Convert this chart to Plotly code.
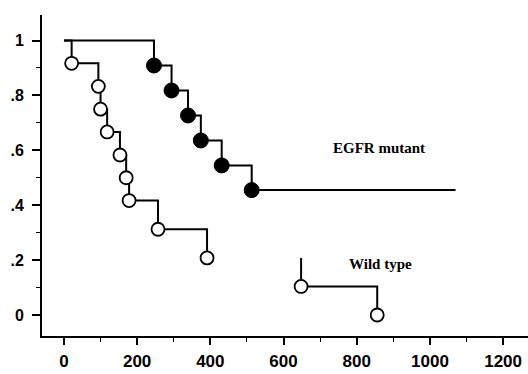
import plotly.graph_objects as go

# EGFR mutant (Kaplan-Meier step curve)
mut_time = [0, 246, 294, 339, 374, 431, 513, 1070]
mut_surv = [1.0, 0.909, 0.818, 0.727, 0.636, 0.545, 0.455, 0.455]
mut_event_time = [246, 294, 339, 374, 431, 513]
mut_event_surv = [0.909, 0.818, 0.727, 0.636, 0.545, 0.455]

# Wild type (two drawn segments; the line between 391 and 648 is absent in the original)
wt_time = [0, 21, 94, 100, 118, 153, 170, 178, 257, 391, None, 648, 648, 856]
wt_surv = [1.0, 0.917, 0.833, 0.75, 0.667, 0.583, 0.5, 0.417, 0.3125, 0.208, None, 0.208, 0.104, 0.0]
wt_event_time = [21, 94, 100, 118, 153, 170, 178, 257, 391, 648, 856]
wt_event_surv = [0.917, 0.833, 0.75, 0.667, 0.583, 0.5, 0.417, 0.3125, 0.208, 0.104, 0.0]

x_tickvals = [0, 200, 400, 600, 800, 1000, 1200]
x_ticktext = ["0", "200", "400", "600", "800", "1000", "1200"]
y_tickvals = [0, 0.2, 0.4, 0.6, 0.8, 1.0]
y_ticktext = ["0", ".2", ".4", ".6", ".8", "1"]

labels = ["EGFR mutant", "Wild type"]
label_x = [861, 864]
label_y = [0.608, 0.186]

fig = go.Figure()
fig.add_trace(go.Scatter(x=mut_time, y=mut_surv, mode="lines", line=dict(color="black", width=2, shape="hv"),
                         showlegend=False, hoverinfo="skip"))
fig.add_trace(go.Scatter(x=wt_time, y=wt_surv, mode="lines", line=dict(color="black", width=2, shape="hv"),
                         connectgaps=False, showlegend=False, hoverinfo="skip"))
fig.add_trace(go.Scatter(x=mut_event_time, y=mut_event_surv, mode="markers",
                         marker=dict(symbol="circle", size=15, color="black", line=dict(color="black", width=1)),
                         showlegend=False))
fig.add_trace(go.Scatter(x=wt_event_time, y=wt_event_surv, mode="markers",
                         marker=dict(symbol="circle", size=13, color="white", line=dict(color="black", width=1.8)),
                         showlegend=False))

for t, xx, yy in zip(labels, label_x, label_y):
    fig.add_annotation(x=xx, y=yy, text=t, showarrow=False,
                       font=dict(family="Liberation Serif", size=15, color="black", weight="bold"))

fig.update_layout(
    width=528, height=374,
    margin=dict(l=42, r=0, t=15, b=38, autoexpand=False),
    paper_bgcolor="white", plot_bgcolor="white",
    xaxis=dict(range=[-60, 1268], showgrid=False, zeroline=False, showline=True, linecolor="black", linewidth=2,
               automargin=False,
               ticks="outside", ticklen=7, tickwidth=1.5, tickcolor="black",
               tickvals=x_tickvals, ticktext=x_ticktext, ticklabelstandoff=2,
               minor=dict(dtick=100, tick0=0, ticks="outside", ticklen=4, tickwidth=1, tickcolor="black"),
               tickfont=dict(family="Liberation Sans", size=17, color="black", weight="bold")),
    yaxis=dict(range=[-0.0765, 1.093], showgrid=False, zeroline=False, showline=True, linecolor="black", linewidth=2,
               automargin=False,
               ticks="outside", ticklen=8, tickwidth=1.5, tickcolor="black",
               tickvals=y_tickvals, ticktext=y_ticktext, ticklabelstandoff=5,
               minor=dict(dtick=0.1, tick0=0, ticks="outside", ticklen=4, tickwidth=1, tickcolor="black"),
               tickfont=dict(family="Liberation Sans", size=16, color="black", weight="bold")),
)

fig.write_html("out.html", config={"displayModeBar": False},
               post_script="document.body.style.margin='0';document.body.style.overflow='hidden';")
